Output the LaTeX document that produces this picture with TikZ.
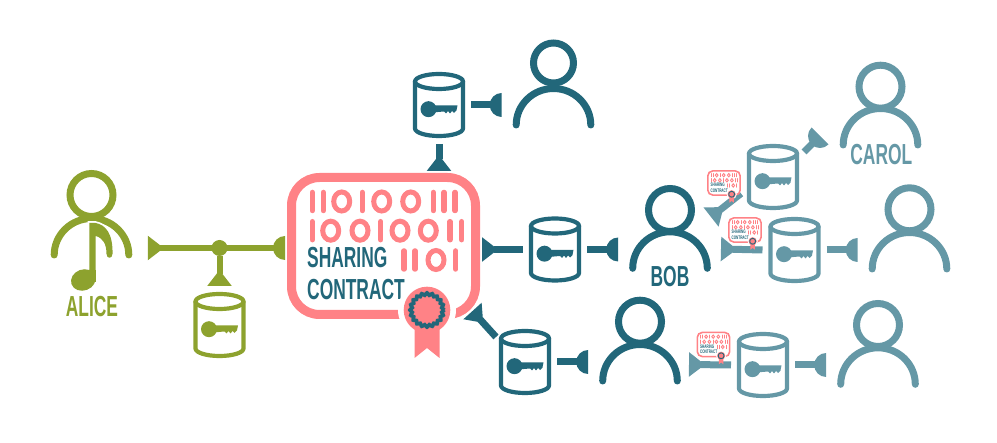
\documentclass[tikz,border=0pt]{standalone}
\usepackage{fontspec}
\usetikzlibrary{arrows.meta,calc}

\newfontfamily\labelfont[FakeStretch=0.6]{Liberation Sans Bold}

\definecolor{aliceGreen}{HTML}{8DA22E}
\definecolor{bobTeal}{HTML}{22677A}
\definecolor{carolTeal}{HTML}{6598A6}
\definecolor{contractPink}{HTML}{FF8286}

% half disc, flat side at the end of the line
\pgfdeclarearrow{
  name=Socket,
  setup code={
    \pgfarrowssettipend{0pt}
    \pgfarrowssetlineend{-10pt}
    \pgfarrowssetvisualbackend{-12pt}
    \pgfarrowssetbackend{-12pt}
  },
  drawing code={
    \pgfpathmoveto{\pgfqpoint{0pt}{12pt}}
    \pgfpatharc{90}{270}{12pt}
    \pgfpathclose
    \pgfusepathqfill
  }
}

\tikzset{
  iconbox/.style={inner sep=0pt,outer sep=0pt},
  nameText/.style={font=\labelfont\fontsize{29}{29}\selectfont,inner sep=0pt},
  link/.style={line width=7pt},
  Plug/.tip={Triangle[reversed,width=23.5pt,length=16pt]}
}

% #1 name, #2 middle of the shoulders, #3 colour, #4 head radius, #5 head height
\newcommand{\person}[5]{%
  \begin{scope}[shift={#2},#3,line width=7pt,line cap=round]
    \draw (0,-#5) circle(#4);
    \draw (-37.3,0) arc[start angle=180,end angle=360,x radius=37.3,y radius=36.5];
    \node[iconbox,minimum width=81.6pt,minimum height=90pt,outer sep=11pt] (#1) at (0,-40) {};
  \end{scope}}

% #1 name, #2 centre, #3 colour
\newcommand{\database}[3]{%
  \begin{scope}[shift={#2},#3,line width=4.2pt]
    \draw (0,-23.5) ellipse (24 and 7.5);
    \draw (-24,-23.5)--(-24,23.5) arc[start angle=180,end angle=0,x radius=24,y radius=7.5]--(24,-23.5);
    \fill (-10.5,4.2) circle(8);
    \fill (-10.5,0.3)--(18.5,0.3)--(17.5,5.5)--(15,8)--(13,6)--(11,8.5)--(9,6)--(7,8.5)--(5,6.5)--(-10.5,7.8)--cycle;
    \node[iconbox,minimum width=52pt,minimum height=66pt,outer sep=6pt] (#1) at (0,0) {};
  \end{scope}}

% #1 name, #2 centre, #3 size
\newcommand{\contract}[3]{%
  \begin{scope}[shift={#2},scale=#3]
    \draw[contractPink,fill=white,line width=#3*9pt,rounded corners=#3*28pt] (-92,-68.5) rectangle (92,68.5);
    % Binary digits
    \foreach \bx/\by in {-71.2/-44.5,-60.2/-44.5,-21.2/-44.5,49.8/-44.5,60.5/-44.5,71.5/-44.5,
                         -71.2/-15.3,-2.8/-15.3,66.5/-15.3,78.2/-15.3,
                         20.5/14,31.5/14,72.2/14}
      \draw[contractPink,line width=#3*5.5pt,line cap=round] (\bx,\by-9)--(\bx,\by+9);
    \foreach \bx/\by in {-41.8/-44.5,-1.8/-44.5,27.2/-44.5,
                         -52.8/-15.3,-23.5/-15.3,16.5/-15.3,44.8/-15.3,
                         52.5/14}
      \draw[contractPink,line width=#3*5pt] (\bx,\by) ellipse (8 and 9.5);
    % Text
    \node[nameText,bobTeal,anchor=west,transform shape] at (-76.5,12) {SHARING};
    \node[nameText,bobTeal,anchor=west,transform shape] at (-76.5,44) {CONTRACT};
    % Seal
    \fill[white] (43.5,64) circle(29);
    \fill[contractPink] (31,80)--(56,80)--(56,112)--(43.5,102)--(31,112)--cycle;
    \fill[contractPink] (43.5,64) circle(23.3);
    \draw[bobTeal,line width=#3*3.5pt] plot[domain=0:360,samples=121]
      ({43.5+(16+1.2*cos(20*\x))*cos(\x)},{64+(16+1.2*cos(20*\x))*sin(\x)});
  \end{scope}}

\begin{document}
\begin{tikzpicture}[x=1pt,y=-1pt]

\useasboundingbox (0,0) rectangle (997,443);

%====================================================
% Alice
%====================================================
\person{alice}{(91.5,255)}{aliceGreen}{21.5}{60}
\path[fill=aliceGreen,preaction={draw=white,line width=3.5pt}]
  (89.3,280)--(89.3,223)--(95.7,223)
  .. controls (106,225) and (113,234) .. (112.5,254)
  .. controls (112.5,259) and (106.5,259) .. (106.5,254)
  .. controls (106.5,244) and (103,238) .. (95.7,236)
  --(95.7,280)--cycle
  (83.3,280) circle[x radius=12.5,y radius=10.5,rotate=20];
\fill[aliceGreen] (89.3,270) rectangle (95.7,282);
\node[nameText,aliceGreen] (aliceName) at (92,306.5) {ALICE};
\database{dbAlice}{(219.5,325)}{aliceGreen}

%====================================================
% Contract
%====================================================
\contract{shareContract}{(383.5,246)}{1}
\node[iconbox,minimum width=193pt,minimum height=146pt,outer sep=2pt] (contract) at (383.5,246) {};

%====================================================
% Readers
%====================================================
\database{dbTop}{(439,105)}{bobTeal}
\person{userTop}{(553.5,125)}{bobTeal}{20}{62}

\database{dbBob}{(555,249.5)}{bobTeal}
\person{bob}{(670,268.3)}{bobTeal}{21.5}{58.3}
\node[nameText,bobTeal] (bobName) at (670,277) {BOB};

\database{dbLow}{(525,362)}{bobTeal}
\person{userLow}{(640,381)}{bobTeal}{21.5}{59.3}

\database{dbCarol}{(773,177)}{carolTeal}
\person{carol}{(880.5,145)}{carolTeal}{21.5}{58.3}
\node[nameText,carolTeal] (carolName) at (881.3,155) {CAROL};

\database{dbRight}{(794.5,250)}{carolTeal}
\person{userRight}{(909.5,269)}{carolTeal}{21.5}{59.7}

\database{dbFar}{(763,365)}{carolTeal}
\person{userFar}{(878,384.3)}{carolTeal}{21.5}{59.3}

% Free ends of the slanted links
\coordinate (contractOut) at (472.5,311);
\coordinate (dbLowIn) at (496,337);
\coordinate (bobOut) at (711,217);
\coordinate (dbCarolIn) at (741,193.5);
\coordinate (dbCarolOut) at (804,152);
\coordinate (carolIn) at (820,136);

%====================================================
% Links
%====================================================
% Alice
\node[circle,fill=aliceGreen,minimum size=16pt,inner sep=0pt] (joinAlice) at (219.5,248) {};
\draw[aliceGreen,line width=6pt,{Plug}-{Socket}] (joinAlice -| alice.east) ++(4.5,0)--(joinAlice -| contract.west);
\draw[aliceGreen,line width=6pt,-{Plug}] (joinAlice)--(dbAlice.north);

% Top
\draw[bobTeal,link,-{Plug}] (dbTop.south)--(dbTop |- contract.north);
\draw[bobTeal,link,-{Socket}] (dbTop.east)--(dbTop -| userTop.west);

% Middle
\draw[bobTeal,link,{Plug}-] (dbBob -| contract.east)--(dbBob.west);
\draw[bobTeal,link,-{Socket}] (dbBob.east)--(dbBob -| bob.west);

% Bottom
\draw[bobTeal,link,{Plug}-] (contractOut)--(dbLowIn);
\draw[bobTeal,link,-{Socket}] (dbLow.east)--(dbLow -| userLow.west);

% Bob to Carol
\draw[carolTeal,link,{Plug}-] (bobOut)--(dbCarolIn);
\draw[carolTeal,link,-{Socket}] (dbCarolOut)--(carolIn);

% Bob to the right
\draw[carolTeal,link,{Plug}-] (721,249)--(dbRight.west);
\draw[carolTeal,link,-{Socket}] (dbRight.east)--(dbRight -| userRight.west);

% Low to the far right
\draw[carolTeal,link,{Plug}-] (689,364.5)--(dbFar.west);
\draw[carolTeal,link,-{Socket}] (dbFar.east)--(dbFar -| userFar.west);

%====================================================
% Small contracts on the links
%====================================================
\contract{contractCarol}{(724,183)}{0.176}
\contract{contractRight}{(745,230)}{0.176}
\contract{contractFar}{(713.5,344.5)}{0.176}

\end{tikzpicture}
\end{document}
